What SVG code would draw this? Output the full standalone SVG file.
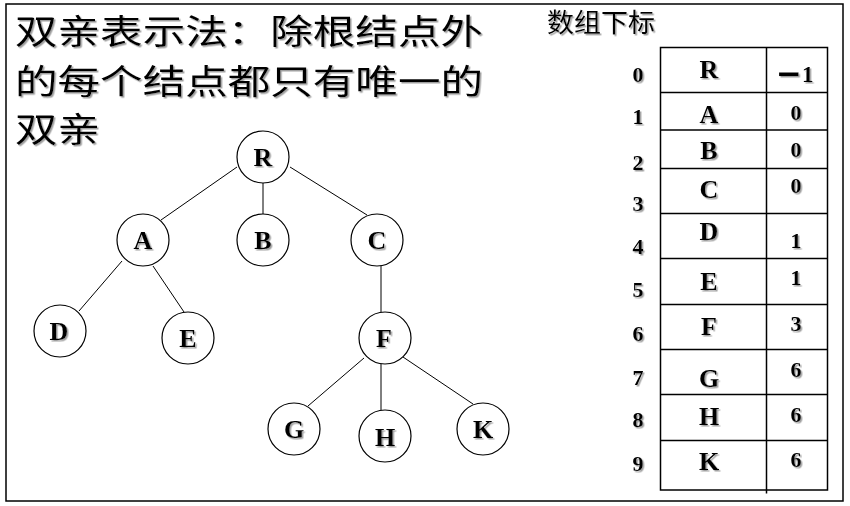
<svg xmlns="http://www.w3.org/2000/svg" width="850" height="506" viewBox="0 0 850 506">
<defs>
<filter id="sh" x="-20%" y="-20%" width="150%" height="150%">
<feDropShadow dx="1.5" dy="1.5" stdDeviation="0.7" flood-color="#888" flood-opacity="0.8"/>
</filter>
</defs>
<style>
.frame{fill:#fff;stroke:#000;stroke-width:1.5}
.node circle{fill:#fff;stroke:#000;stroke-width:1.2}
.lt{font-family:"Liberation Serif","Times New Roman",serif;font-weight:bold;fill:#000;text-anchor:middle;filter:url(#sh)}
.nl{font-size:26px}
.tl{font-size:26px}
.vl{font-size:22px}
.il{font-size:22px}
.cjk{font-family:"Noto Sans CJK SC","Noto Sans",sans-serif;fill:#000;filter:url(#sh)}
.edges line{stroke:#000;stroke-width:1}
.grid line{stroke:#000;stroke-width:1.5}
</style>
<rect class="frame" x="6" y="4" width="837" height="497"/>
<g id="title" class="cjk" font-size="34">
<text x="15" y="44" textLength="468" lengthAdjust="spacingAndGlyphs">双亲表示法：除根结点外</text>
<text x="15" y="94" textLength="468" lengthAdjust="spacingAndGlyphs">的每个结点都只有唯一的</text>
<text x="15" y="142" textLength="85" lengthAdjust="spacingAndGlyphs">双亲</text>
</g>
<g id="connectors" class="edges">
<line x1="237" y1="167" x2="161" y2="220"/>
<line x1="263" y1="183" x2="263" y2="214"/>
<line x1="290" y1="167" x2="367" y2="215"/>
<line x1="122" y1="261" x2="79" y2="311"/>
<line x1="153" y1="266" x2="184" y2="312"/>
<line x1="381" y1="266" x2="381" y2="312"/>
<line x1="364" y1="358" x2="308" y2="406"/>
<line x1="381" y1="364" x2="381" y2="410"/>
<line x1="403" y1="357" x2="473" y2="404"/>
</g>
<g id="node-R" class="node"><circle cx="263" cy="157" r="26"/><text class="lt nl" x="263" y="166">R</text></g>
<g id="node-A" class="node"><circle cx="143" cy="240" r="26"/><text class="lt nl" x="143" y="249">A</text></g>
<g id="node-B" class="node"><circle cx="263" cy="240" r="26"/><text class="lt nl" x="263" y="249">B</text></g>
<g id="node-C" class="node"><circle cx="377" cy="240" r="26"/><text class="lt nl" x="377" y="249">C</text></g>
<g id="node-D" class="node"><circle cx="60" cy="331" r="26"/><text class="lt nl" x="59" y="340">D</text></g>
<g id="node-E" class="node"><circle cx="188" cy="338" r="26"/><text class="lt nl" x="188" y="347">E</text></g>
<g id="node-F" class="node"><circle cx="385" cy="338" r="26"/><text class="lt nl" x="384" y="347">F</text></g>
<g id="node-G" class="node"><circle cx="294" cy="429" r="26"/><text class="lt nl" x="294" y="438">G</text></g>
<g id="node-H" class="node"><circle cx="385" cy="436" r="26"/><text class="lt nl" x="385" y="446">H</text></g>
<g id="node-K" class="node"><circle cx="483" cy="429" r="26"/><text class="lt nl" x="483" y="438">K</text></g>
<g id="table">
<text class="cjk" x="547" y="32" font-size="26" textLength="108" lengthAdjust="spacingAndGlyphs">数组下标</text>
<g class="grid">
<rect x="660.5" y="47.5" width="167" height="442.5" fill="none" stroke="#000" stroke-width="1.5"/>
<line x1="766.5" y1="47.5" x2="766.5" y2="493.5"/>
<line x1="660.5" y1="92.5" x2="827.5" y2="92.5"/>
<line x1="660.5" y1="130" x2="827.5" y2="130"/>
<line x1="660.5" y1="168.5" x2="827.5" y2="168.5"/>
<line x1="660.5" y1="213.5" x2="827.5" y2="213.5"/>
<line x1="660.5" y1="258.5" x2="827.5" y2="258.5"/>
<line x1="660.5" y1="304.5" x2="827.5" y2="304.5"/>
<line x1="660.5" y1="349.5" x2="827.5" y2="349.5"/>
<line x1="660.5" y1="394.5" x2="827.5" y2="394.5"/>
<line x1="660.5" y1="440.5" x2="827.5" y2="440.5"/>
</g>
<g id="indices">
<text class="lt il" x="638" y="82">0</text>
<text class="lt il" x="638" y="124">1</text>
<text class="lt il" x="638" y="170">2</text>
<text class="lt il" x="638" y="211">3</text>
<text class="lt il" x="638" y="254">4</text>
<text class="lt il" x="638" y="297">5</text>
<text class="lt il" x="638" y="341">6</text>
<text class="lt il" x="638" y="385">7</text>
<text class="lt il" x="638" y="427">8</text>
<text class="lt il" x="638" y="471">9</text>
</g>
<g id="cells-data">
<text class="lt tl" x="709" y="78">R</text>
<text class="lt tl" x="709" y="123">A</text>
<text class="lt tl" x="709" y="159">B</text>
<text class="lt tl" x="709" y="198">C</text>
<text class="lt tl" x="709" y="240">D</text>
<text class="lt tl" x="709" y="290">E</text>
<text class="lt tl" x="709" y="335">F</text>
<text class="lt tl" x="709" y="387">G</text>
<text class="lt tl" x="709" y="425">H</text>
<text class="lt tl" x="709" y="470">K</text>
</g>
<g id="cells-parent">
<text class="lt vl" x="776" y="82" style="text-anchor:start;font-size:23px"><tspan style="font-family:'DejaVu Sans',sans-serif;font-size:31px" dy="2">−</tspan><tspan dy="-2">1</tspan></text>
<text class="lt vl" x="796" y="120">0</text>
<text class="lt vl" x="796" y="157">0</text>
<text class="lt vl" x="796" y="193">0</text>
<text class="lt vl" x="796" y="248">1</text>
<text class="lt vl" x="796" y="285">1</text>
<text class="lt vl" x="796" y="331">3</text>
<text class="lt vl" x="796" y="377">6</text>
<text class="lt vl" x="796" y="422">6</text>
<text class="lt vl" x="796" y="467">6</text>
</g>
</g>
</svg>
